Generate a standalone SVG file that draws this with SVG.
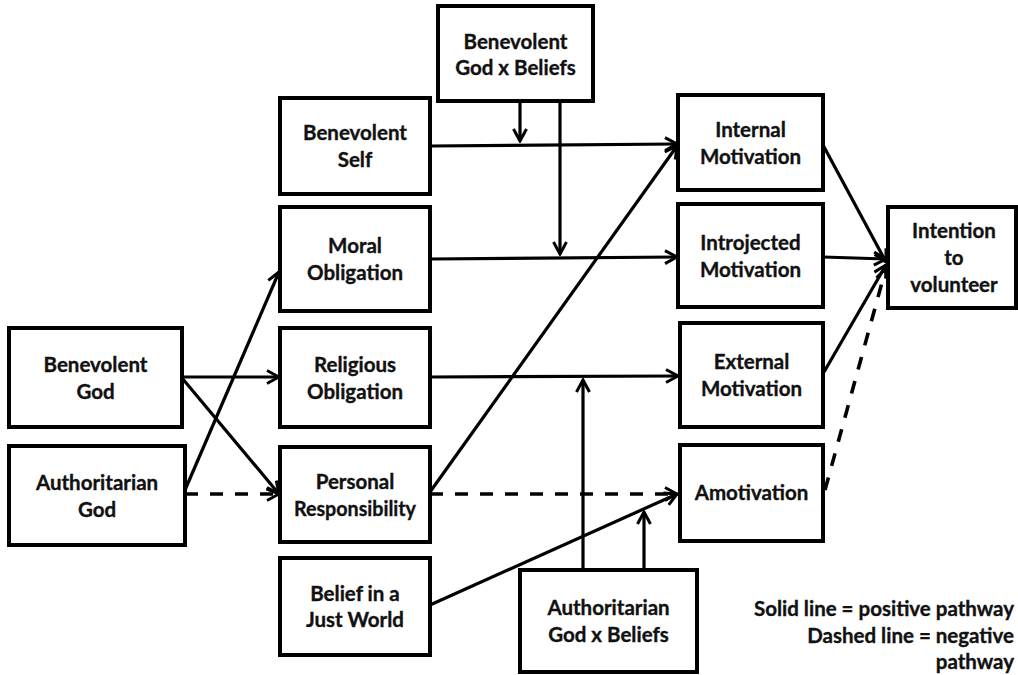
<svg xmlns="http://www.w3.org/2000/svg" width="1018" height="675" viewBox="0 0 1018 675">
  <style>
    .box { fill: #fff; stroke: #000; stroke-width: 4; }
    .lbl { font-family: Lato, "Liberation Sans", Arial, sans-serif; font-weight: bold; font-size: 20.5px; fill: #111; stroke: #111; stroke-width: 0.35; text-anchor: middle; }
    .legend { font-family: Lato, "Liberation Sans", Arial, sans-serif; font-weight: bold; font-size: 20.5px; fill: #111; stroke: #111; stroke-width: 0.35; text-anchor: end; }
    .edge { fill: none; stroke: #000; stroke-width: 3.2; marker-end: url(#arrow); }
    .neg { stroke-width: 3.6; stroke-dasharray: 13 12; }
  </style>
  <defs>
    <marker id="arrow" viewBox="0 0 16 16" markerWidth="16" markerHeight="16" refX="14" refY="8" orient="auto" markerUnits="userSpaceOnUse">
      <path d="M2,1.5 L14,8 L2,14.5" fill="none" stroke="#000" stroke-width="3" stroke-dasharray="none" stroke-linejoin="miter"/>
    </marker>
  </defs>
  <rect width="1018" height="675" fill="#fff"/>

  <g id="connectors">
    <!-- moderator arrows from Benevolent God x Beliefs -->
    <path class="edge" d="M520,101 L520,141"/>
    <path class="edge" d="M560,101 L560,254"/>
    <!-- moderator arrows from Authoritarian God x Beliefs -->
    <path class="edge" d="M583,570 L583,380"/>
    <path class="edge" d="M644,570 L644,512"/>
    <!-- predictors to mediators -->
    <path class="edge" d="M182,377 L279,377"/>
    <path class="edge" d="M182,378 L279,494"/>
    <path class="edge" d="M185,490 L279,272"/>
    <path class="edge neg" d="M185,494 L279,494"/>
    <!-- mediators to motivations -->
    <path class="edge" d="M430,146 L677,144"/>
    <path class="edge" d="M430,259 L677,257"/>
    <path class="edge" d="M430,377 L678,376"/>
    <path class="edge" d="M430,492 L677,146"/>
    <path class="edge neg" d="M430,494 L677,494"/>
    <path class="edge" d="M430,605 L677,494"/>
    <!-- motivations to intention -->
    <path class="edge" d="M823,145 L886,262"/>
    <path class="edge" d="M823,257 L886,259"/>
    <path class="edge" d="M824,372 L886,265"/>
    <path class="edge neg" d="M825,490 L886,268"/>
  </g>

  <g id="benevolent-god-x-beliefs">
    <rect class="box" x="438" y="6" width="155" height="95"/>
    <text class="lbl" x="515.5" y="49">Benevolent</text>
    <text class="lbl" x="515.5" y="75">God x Beliefs</text>
  </g>
  <g id="benevolent-self">
    <rect class="box" x="280" y="98" width="150" height="96"/>
    <text class="lbl" x="355" y="140">Benevolent</text>
    <text class="lbl" x="355" y="167">Self</text>
  </g>
  <g id="moral-obligation">
    <rect class="box" x="280" y="207" width="150" height="104"/>
    <text class="lbl" x="355" y="253">Moral</text>
    <text class="lbl" x="355" y="280">Obligation</text>
  </g>
  <g id="religious-obligation">
    <rect class="box" x="280" y="328" width="150" height="99"/>
    <text class="lbl" x="355" y="372">Religious</text>
    <text class="lbl" x="355" y="399">Obligation</text>
  </g>
  <g id="personal-responsibility">
    <rect class="box" x="280" y="447" width="150" height="95"/>
    <text class="lbl" x="355" y="489">Personal</text>
    <text class="lbl" x="355" y="516" textLength="122" lengthAdjust="spacingAndGlyphs">Responsibility</text>
  </g>
  <g id="belief-just-world">
    <rect class="box" x="280" y="558" width="150" height="97"/>
    <text class="lbl" x="355" y="601">Belief in a</text>
    <text class="lbl" x="355" y="627">Just World</text>
  </g>
  <g id="benevolent-god">
    <rect class="box" x="9" y="328" width="173" height="99"/>
    <text class="lbl" x="95.5" y="372">Benevolent</text>
    <text class="lbl" x="95.5" y="399">God</text>
  </g>
  <g id="authoritarian-god">
    <rect class="box" x="9" y="446" width="176" height="99"/>
    <text class="lbl" x="97" y="490">Authoritarian</text>
    <text class="lbl" x="97" y="517">God</text>
  </g>
  <g id="internal-motivation">
    <rect class="box" x="678" y="95" width="145" height="95"/>
    <text class="lbl" x="750.5" y="137">Internal</text>
    <text class="lbl" x="750.5" y="164">Motivation</text>
  </g>
  <g id="introjected-motivation">
    <rect class="box" x="678" y="204" width="145" height="103"/>
    <text class="lbl" x="750.5" y="250">Introjected</text>
    <text class="lbl" x="750.5" y="277">Motivation</text>
  </g>
  <g id="external-motivation">
    <rect class="box" x="680" y="323" width="143" height="104"/>
    <text class="lbl" x="751.5" y="369">External</text>
    <text class="lbl" x="751.5" y="396">Motivation</text>
  </g>
  <g id="amotivation">
    <rect class="box" x="680" y="445" width="143" height="96"/>
    <text class="lbl" x="751.5" y="500">Amotivation</text>
  </g>
  <g id="intention-to-volunteer">
    <rect class="box" x="888" y="207" width="128" height="101"/>
    <text class="lbl" x="954" y="238">Intention</text>
    <text class="lbl" x="954" y="265">to</text>
    <text class="lbl" x="954" y="292">volunteer</text>
  </g>
  <g id="authoritarian-god-x-beliefs">
    <rect class="box" x="520" y="570" width="177" height="102"/>
    <text class="lbl" x="608.5" y="615">Authoritarian</text>
    <text class="lbl" x="608.5" y="642">God x Beliefs</text>
  </g>

  <g id="legend">
    <text class="legend" x="1014" y="616">Solid line = positive pathway</text>
    <text class="legend" x="1014" y="643">Dashed line = negative</text>
    <text class="legend" x="1014" y="669">pathway</text>
  </g>
</svg>
